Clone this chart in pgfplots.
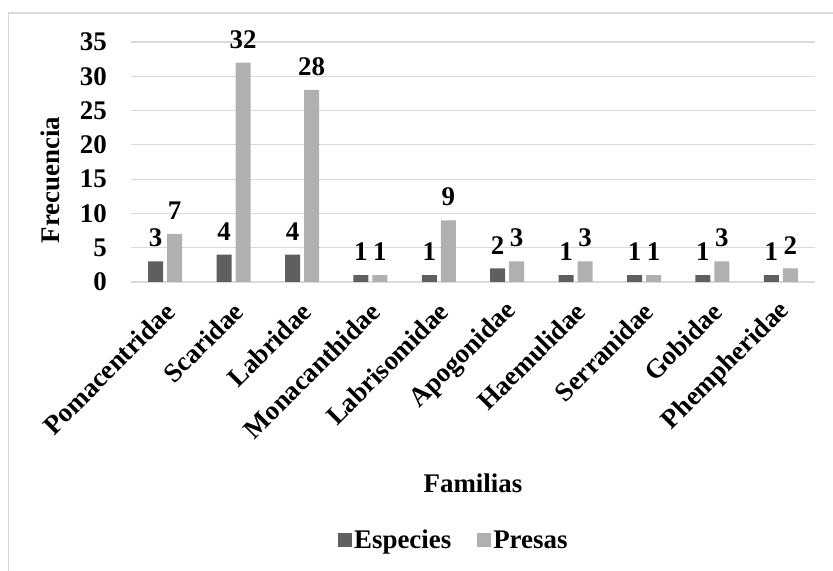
\documentclass[border=0pt]{standalone}
\usepackage{fontspec}
\setmainfont{Liberation Serif}
\usepackage{pgfplots}
\pgfplotsset{compat=1.18}
\definecolor{darkbar}{HTML}{5F5F5F}
\definecolor{lightbar}{HTML}{B0B0B0}
\definecolor{gridc}{HTML}{D9D9D9}
\begin{document}
\begin{tikzpicture}
\newcommand{\bigf}{\fontsize{27}{31}\selectfont\bfseries}
\begin{axis}[
  at={(131bp,289bp)}, anchor=south west,
  scale only axis, width=684bp, height=240bp,
  ybar=4bp, bar width=15bp,
  xmin=-0.5, xmax=9.5, ymin=0, ymax=35,
  enlargelimits=false,
  xtick={0,...,9},
  xticklabels={Pomacentridae,Scaridae,Labridae,Monacanthidae,Labrisomidae,Apogonidae,Haemulidae,Serranidae,Gobidae,Phempheridae},
  ytick={0,5,...,35},
  major tick length=0pt,
  axis line style={draw=none},
  ymajorgrids, grid style={gridc, line width=1.2bp},
  /pgf/number format/assume math mode=true,
  tick label style={font=\bigf},
  yticklabel style={anchor=east, inner sep=0pt, xshift=-24bp},
  xticklabel style={inner sep=0pt, xshift=5bp, yshift=-25bp, rotate=45, anchor=east},
  xlabel={Familias}, ylabel={Frecuencia},
  label style={font=\bigf},
  xlabel style={at={(axis description cs:0.5,-0.84)}, anchor=center},
  ylabel style={at={(axis description cs:-0.118,0.425)}, anchor=center},
  nodes near coords,
  every node near coord/.append style={font=\bigf, anchor=south, inner sep=0pt, yshift=14bp},
  legend style={draw=none, font=\bigf, at={(axis description cs:0.472,-1.075)}, anchor=center, legend columns=2,
    /tikz/every even column/.append style={column sep=24bp}, inner sep=0pt},
  legend image code/.code={\fill[#1] (0bp,-7bp) rectangle (14bp,7bp);},
]
\addplot[fill=darkbar, draw=none] coordinates {(0,3) (1,4) (2,4) (3,1) (4,1) (5,2) (6,1) (7,1) (8,1) (9,1)};
\addplot[fill=lightbar, draw=none] coordinates {(0,7) (1,32) (2,28) (3,1) (4,9) (5,3) (6,3) (7,1) (8,3) (9,2)};
\legend{Especies, Presas}
\end{axis}
\draw[gridc, line width=1.5bp] (8.5bp,0bp) -- (8.5bp,558bp) -- (833bp,558bp);
\pgfresetboundingbox
\path (0bp,0bp) rectangle (833bp,571bp);
\end{tikzpicture}
\end{document}
